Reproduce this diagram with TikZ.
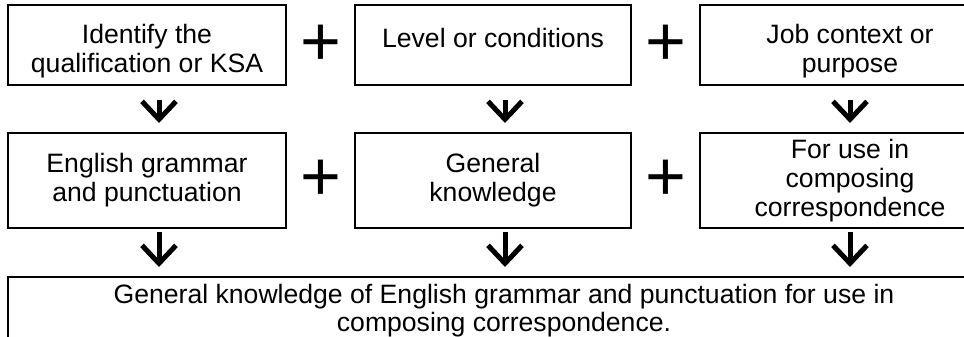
\documentclass[tikz,border=0pt]{standalone}
\usepackage{fontspec}
\setmainfont{Liberation Sans}
\usetikzlibrary{positioning,calc,arrows.meta}

\begin{document}
\begin{tikzpicture}[node distance=24pt and 34.5pt]
    \tikzstyle{box} = [rectangle, draw=black, line width=1pt, outer sep=0pt, inner sep=0pt, minimum height=40pt, align=center, font=\fontsize{13.3pt}{14.5pt}\selectfont]
    \tikzstyle{tallbox} = [box, minimum height=47.5pt]
    \tikzstyle{lowtext} = [text height=30pt, text depth=3pt]
    \tikzstyle{plus} = [inner sep=0pt, font=\fontsize{35pt}{35pt}\selectfont]
    \tikzstyle{down} = [line width=2.5pt, -{Straight Barb[length=9pt, width=17pt]}]

    \useasboundingbox (0,0) rectangle (482pt,-168.5pt);

    % Top row
    \node [box, lowtext, minimum width=139pt, anchor=north west] (ident) at (4pt,-2.5pt) {Identify the\\qualification or KSA};
    \node [box, minimum width=138pt, right=of ident, text height=9.7pt, text depth=7.7pt] (level) {Level or conditions};
    \node [box, lowtext, minimum width=150pt, right=of level] (context) {Job context or\\purpose};

    % Middle row
    \node [tallbox, minimum width=139pt, below=of ident] (grammar) {English grammar\\and punctuation};
    \node [tallbox, minimum width=138pt, below=of level] (general) {General\\knowledge};
    \node [tallbox, minimum width=150pt, below=of context] (use) {For use in\\composing\\correspondence};

    % Result
    \node [box, minimum width=496pt, minimum height=34pt, below=24.5pt of grammar.south west, anchor=north west, font=\fontsize{13.3pt}{14pt}\selectfont] (result) {General knowledge of English grammar and punctuation for use in\\composing correspondence.};

    % Plus signs
    \node [plus] (plusa) at ($(ident.east)!0.5!(level.west)$) {+};
    \node [plus] (plusb) at ($(level.east)!0.5!(context.west)$) {+};
    \node [plus] (plusc) at ($(grammar.east)!0.5!(general.west)$) {+};
    \node [plus] (plusd) at ($(general.east)!0.5!(use.west)$) {+};

    % Arrows
    \draw [down, shorten <=7.5pt, shorten >=5pt] ([xshift=6pt]ident.south) -- ([xshift=6pt]grammar.north);
    \draw [down, shorten <=7.5pt, shorten >=5pt] ([xshift=6pt]level.south) -- ([xshift=6pt]general.north);
    \draw [down, shorten <=7.5pt, shorten >=5pt] (context.south) -- (use.north);
    \draw [down, shorten <=2pt, shorten >=5pt] ([xshift=6pt]grammar.south) -- ([xshift=6pt]grammar.south |- result.north);
    \draw [down, shorten <=2pt, shorten >=5pt] ([xshift=6pt]general.south) -- ([xshift=6pt]general.south |- result.north);
    \draw [down, shorten <=2pt, shorten >=5pt] (use.south) -- (use.south |- result.north);
\end{tikzpicture}
\end{document}
